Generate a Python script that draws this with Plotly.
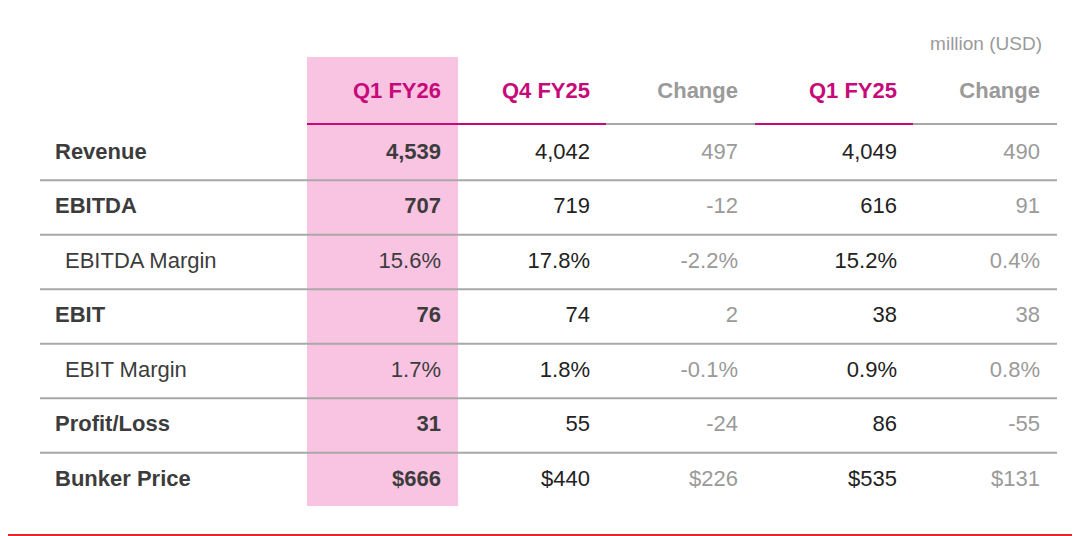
import plotly.graph_objects as go

rows = ["Revenue", "EBITDA", "EBITDA Margin", "EBIT", "EBIT Margin", "Profit/Loss", "Bunker Price"]
is_sub = [False, False, True, False, True, False, False]
headers = ["Q1 FY26", "Q4 FY25", "Change", "Q1 FY25", "Change"]
q1fy26 = ["4,539", "707", "15.6%", "76", "1.7%", "31", "$666"]
q4fy25 = ["4,042", "719", "17.8%", "74", "1.8%", "55", "$440"]
chg_q4 = ["497", "-12", "-2.2%", "2", "-0.1%", "-24", "$226"]
q1fy25 = ["4,049", "616", "15.2%", "38", "0.9%", "86", "$535"]
chg_q1 = ["490", "91", "0.4%", "38", "0.8%", "-55", "$131"]
unit = "million (USD)"

MAG = "#C8097A"; GRAY = "#9A9A9A"; DARK = "#3C3C3C"; LINE = "#A8A8A8"
FONT = "Liberation Sans"
col_right = [441, 590, 738, 897, 1040]
col_edges = [(307, 458), (458, 606), (606, 755), (755, 913), (913, 1057)]
head_col = [MAG, MAG, GRAY, MAG, GRAY]
row_y = [153 + i * 54.5 for i in range(len(rows))]

fig = go.Figure()
shapes = [dict(type="rect", xref="x", yref="y", x0=1, x1=1079, y0=1, y1=535,
               line=dict(color="#E8262B", width=2), fillcolor="white", layer="below"),
          dict(type="rect", xref="x", yref="y", x0=307, x1=458, y0=57, y1=506,
               line=dict(width=0), fillcolor="#F9C4E2", layer="below")]
for (a, b), c in zip(col_edges, head_col):
    shapes.append(dict(type="line", x0=a, x1=b, y0=124, y1=124, xref="x", yref="y",
                       line=dict(color=MAG if c == MAG else LINE, width=2)))
for i in range(len(rows) - 1):
    y = (row_y[i] + row_y[i + 1]) / 2
    shapes.append(dict(type="line", x0=40, x1=1057, y0=y, y1=y, xref="x", yref="y",
                       line=dict(color=LINE, width=2)))

fig.add_trace(go.Scatter(x=col_right, y=[92] * 5, mode="text",
                         text=[f"<b>{h}</b>" for h in headers], textposition="middle left",
                         textfont=dict(family=FONT, size=22, color=head_col), hoverinfo="skip"))
fig.add_trace(go.Scatter(x=[65 if s else 55 for s in is_sub], y=row_y, mode="text",
                         text=[r if s else f"<b>{r}</b>" for r, s in zip(rows, is_sub)],
                         textposition="middle right",
                         textfont=dict(family=FONT, size=22, color=DARK), hoverinfo="skip"))
cols = [q1fy26, q4fy25, chg_q4, q1fy25, chg_q1]
colors = [DARK, "#222222", GRAY, "#222222", GRAY]
for k, (vals, xr, c) in enumerate(zip(cols, col_right, colors)):
    txt = [f"<b>{v}</b>" if (k == 0 and not s) else v for v, s in zip(vals, is_sub)]
    fig.add_trace(go.Scatter(x=[xr] * len(vals), y=row_y, mode="text", text=txt,
                             textposition="middle left",
                             textfont=dict(family=FONT, size=22, color=c), hoverinfo="skip"))
fig.add_trace(go.Scatter(x=[1042], y=[45], mode="text", text=[unit], textposition="middle left",
                         textfont=dict(family=FONT, size=19, color=GRAY), hoverinfo="skip"))

# page body has an 8px margin; shift the axis ranges so coordinates match the window
fig.update_layout(width=1080, height=536, margin=dict(l=0, r=0, t=0, b=0),
                  paper_bgcolor="white", plot_bgcolor="white", showlegend=False, shapes=shapes,
                  xaxis=dict(range=[8, 1088], visible=False, fixedrange=True),
                  yaxis=dict(range=[544, 8], visible=False, fixedrange=True))
fig.write_html("out.html")
